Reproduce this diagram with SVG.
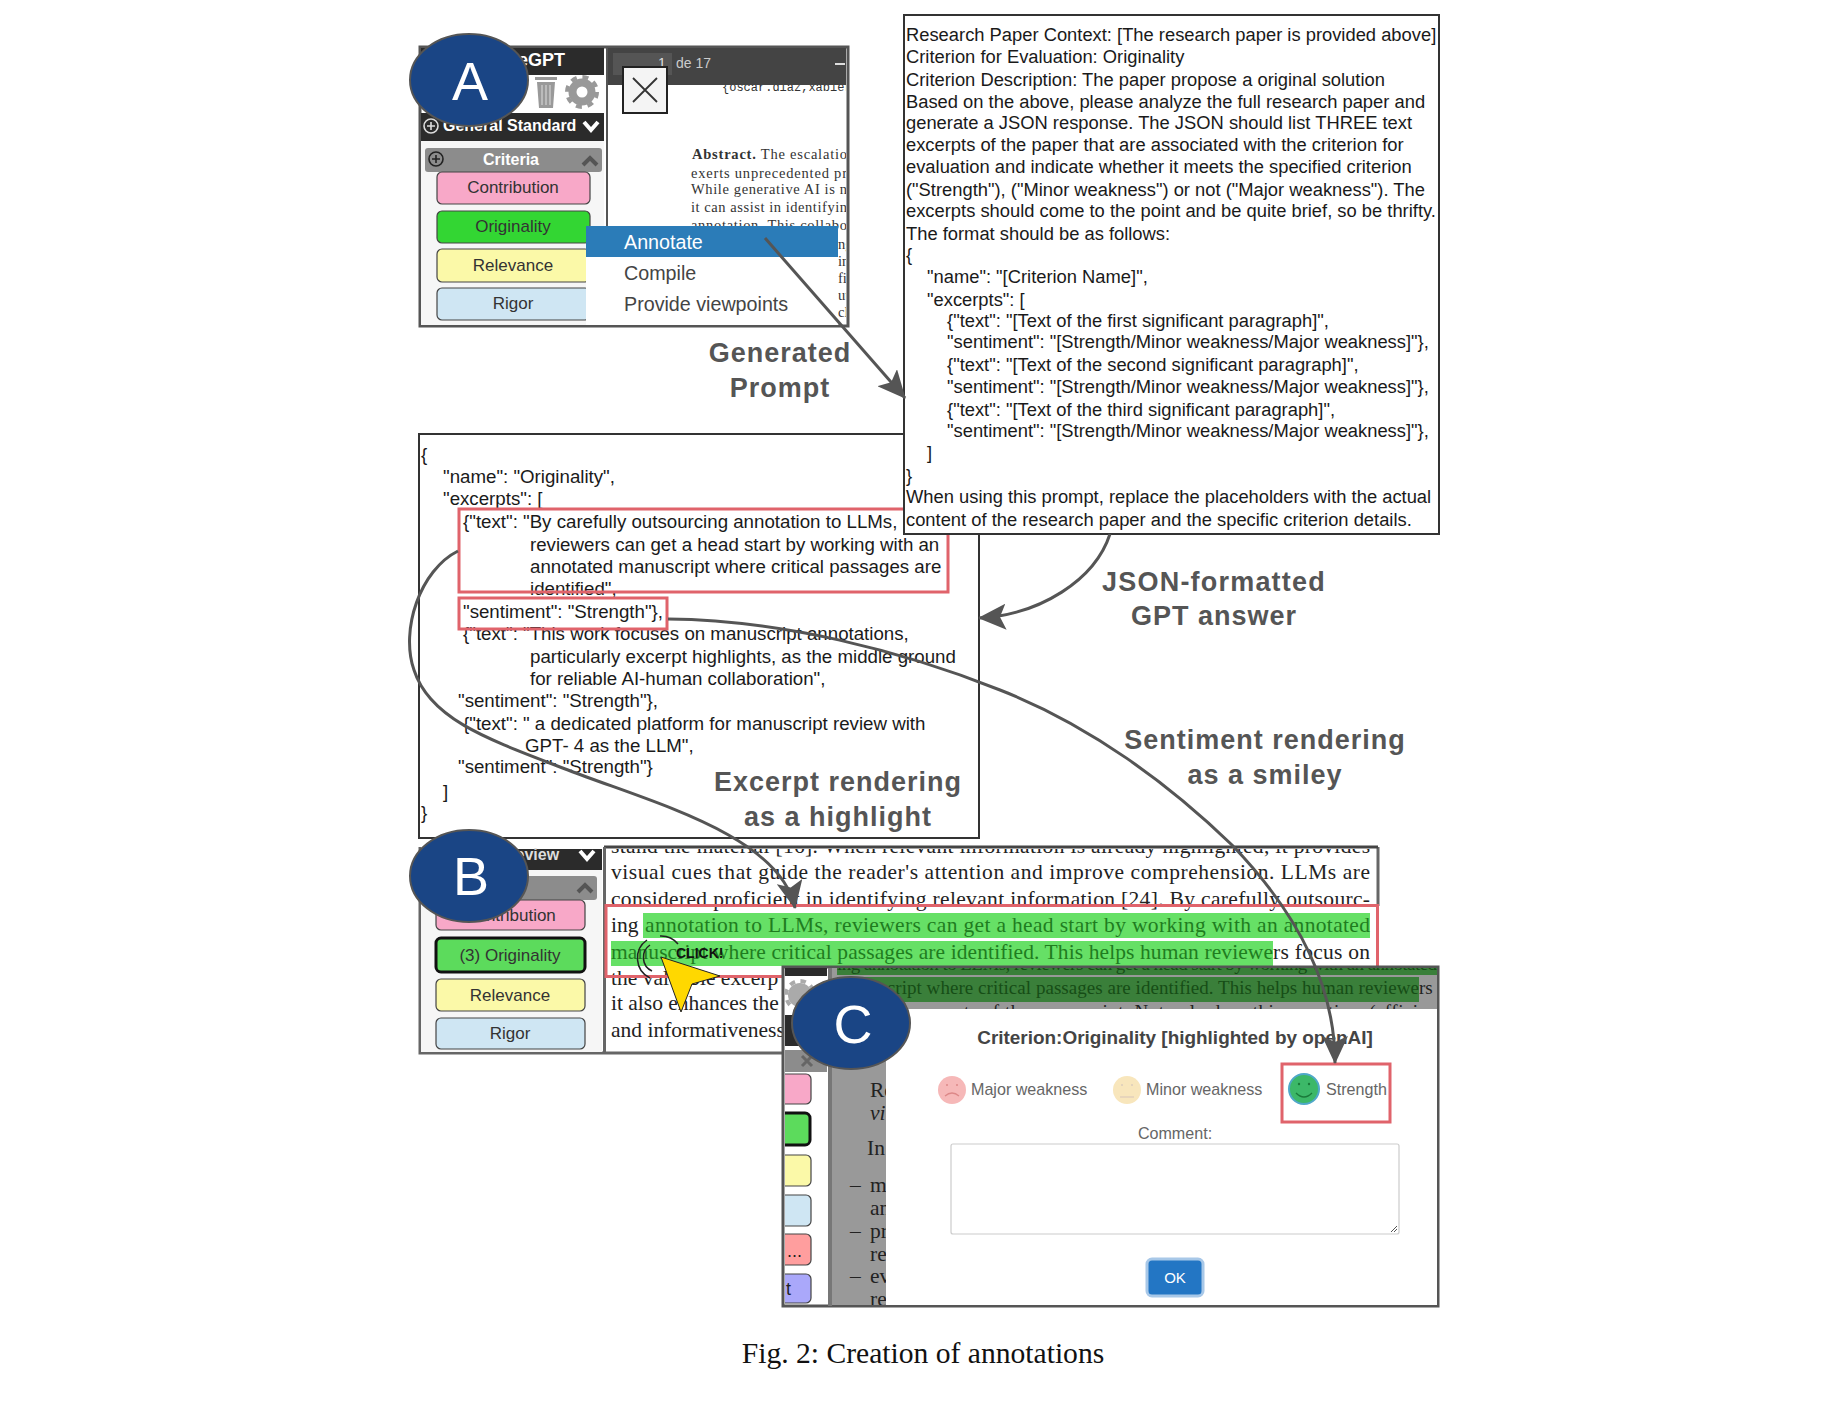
<svg xmlns="http://www.w3.org/2000/svg" width="1836" height="1416" viewBox="0 0 1836 1416">
<style>
text{font-family:"Liberation Sans",Arial,sans-serif;fill:#222}
.p{font-size:18.35px;fill:#1a1a1a}
.j{font-size:18.7px;fill:#1a1a1a}
.d{font-family:"Liberation Serif","Times New Roman",serif;font-size:21.5px;fill:#222}
.e{font-family:"Liberation Serif","Times New Roman",serif;font-size:19px}
.a{font-family:"Liberation Serif","Times New Roman",serif;font-size:14.5px;fill:#333}
.h{font-size:27px;font-weight:bold;fill:#555;text-anchor:middle;letter-spacing:1px}
.b{font-size:17px;text-anchor:middle;fill:#333}
.m{font-size:19.7px;fill:#444}
.box{fill:#fff;stroke:#333;stroke-width:2}
.red{fill:none;stroke:#e0636b;stroke-width:3}
.badge{fill:#1a4585;stroke:#555;stroke-width:2}
.lt{font-size:54px;fill:#fff;text-anchor:middle}
.conn{fill:none;stroke:#555;stroke-width:3}
.btn{stroke:#444;stroke-width:1.2}
.f{font-size:16.1px;fill:#666}
</style>
<defs>
<marker id="ah" markerUnits="userSpaceOnUse" markerWidth="30" markerHeight="26" refX="27" refY="13" orient="auto"><path d="M0 0L28 13L0 26L6 13Z" fill="#555"/></marker>
<clipPath id="ca"><rect x="608" y="85" width="238" height="240"/></clipPath>
<clipPath id="cb"><rect x="606" y="849" width="770" height="203"/></clipPath>
<clipPath id="cc"><rect x="832" y="968" width="605" height="41"/></clipPath>
<clipPath id="cd"><rect x="832" y="1009" width="54" height="296"/></clipPath>
<clipPath id="ce"><rect x="785" y="1060" width="30" height="245"/></clipPath>
</defs>

<g id="panel-a">
<rect x="420" y="47" width="428" height="279" fill="#fff" stroke="#555" stroke-width="3"/>
<rect x="421" y="48" width="183" height="27" fill="#2b2b2b"/>
<text x="518" y="66" font-size="18" font-weight="bold" style="fill:#fff">eGPT</text>
<g fill="#999"><path d="M537 82h18l-2 26h-14zM535 77h22v3h-22z"/><path d="M542 85v20M546 85v20M550 85v20" stroke="#ddd" stroke-width="1"/><circle cx="582" cy="92" r="13.5"/><circle cx="582" cy="92" r="15" fill="none" stroke="#999" stroke-width="4" stroke-dasharray="6 5.78"/><circle cx="582" cy="92" r="5.5" fill="#fff"/></g>
<rect x="421" y="113" width="183" height="28" fill="#2b2b2b"/>
<circle cx="431" cy="126" r="7" fill="none" stroke="#ddd" stroke-width="1.6"/><path d="M427 126h8M431 122v8" stroke="#ddd" stroke-width="1.6"/>
<text x="443" y="131" font-size="16" font-weight="bold" style="fill:#fff">General Standard</text>
<path d="M584 122l7 8 7-8" fill="none" stroke="#fff" stroke-width="4"/>
<rect x="421" y="141" width="183" height="184" fill="#f6f6f6"/>
<rect x="425" y="148" width="177" height="24" rx="3" fill="#8c8c8c"/>
<circle cx="436" cy="159" r="7" fill="none" stroke="#222" stroke-width="1.6"/><path d="M432 159h8M436 155v8" stroke="#222" stroke-width="1.6"/>
<text x="511" y="165" font-size="16" font-weight="bold" text-anchor="middle" style="fill:#fff">Criteria</text>
<path d="M583 165l7-7 7 7" fill="none" stroke="#555" stroke-width="4"/>
<rect class="btn" x="437" y="172" width="153" height="32" rx="5" fill="#f8a8c8"/><text class="b" x="513" y="193">Contribution</text>
<rect class="btn" x="437" y="211" width="153" height="32" rx="5" fill="#33d633"/><text class="b" x="513" y="232">Originality</text>
<rect class="btn" x="437" y="249" width="153" height="33" rx="5" fill="#fbf9a8"/><text class="b" x="513" y="271">Relevance</text>
<rect class="btn" x="437" y="288" width="153" height="32" rx="5" fill="#cfe6f3"/><text class="b" x="513" y="309">Rigor</text>
<rect x="606" y="47" width="2" height="279" fill="#555"/>
<rect x="608" y="48" width="238" height="37" fill="#444"/>
<rect x="613" y="53" width="59" height="22" fill="#555"/>
<text x="658" y="68" font-size="14" style="fill:#ddd">1</text><text x="676" y="68" font-size="14" style="fill:#ccc">de 17</text>
<rect x="835" y="63" width="10" height="2" fill="#ddd"/>
<g clip-path="url(#ca)">
<text class="a" x="722" y="91" style="font-family:'Liberation Mono',monospace;font-size:12px">{oscar.diaz,xabier</text>
<text class="a" x="692" y="159" textLength="155"><tspan font-weight="bold">Abstract.</tspan> The escalatio</text>
<text class="a" x="691" y="178" textLength="156">exerts unprecedented pr</text>
<text class="a" x="691" y="194" textLength="156">While generative AI is n</text>
<text class="a" x="691" y="212" textLength="156">it can assist in identifyin</text>
<text class="a" x="691" y="230" textLength="156">annotation. This collabo</text>
<text class="a" x="838" y="249">ng</text><text class="a" x="838" y="266">in</text><text class="a" x="838" y="283">fi</text><text class="a" x="838" y="300">ut</text><text class="a" x="838" y="317">cl</text>
</g>
<rect x="623" y="67" width="44" height="46" fill="#f4f4f4" stroke="#222" stroke-width="2"/>
<path d="M633 78l24 24M657 78l-24 24" stroke="#333" stroke-width="1.8"/>
<rect x="586" y="226" width="252" height="99" fill="#fff"/>
<rect x="586" y="226" width="252" height="31" fill="#2b7cb8"/>
<text class="m" x="624" y="249" style="fill:#fff">Annotate</text>
<text class="m" x="624" y="280">Compile</text>
<text class="m" x="624" y="311">Provide viewpoints</text>
</g>

<g id="json-answer">
<rect class="box" x="419" y="434" width="560" height="404"/>
<text class="j" x="421" y="461">{</text>
<text class="j" x="443" y="483">"name": "Originality",</text>
<text class="j" x="443" y="505">"excerpts": [</text>
<text class="j" x="463" y="528">{"text": "By carefully outsourcing annotation to LLMs,</text>
<text class="j" x="530" y="551">reviewers can get a head start by working with an</text>
<text class="j" x="530" y="573">annotated manuscript where critical passages are</text>
<text class="j" x="530" y="595">identified",</text>
<text class="j" x="463" y="618">"sentiment": "Strength"},</text>
<text class="j" x="463" y="640">{"text": "This work focuses on manuscript annotations,</text>
<text class="j" x="530" y="663">particularly excerpt highlights, as the middle ground</text>
<text class="j" x="530" y="685">for reliable AI-human collaboration",</text>
<text class="j" x="458" y="707">"sentiment": "Strength"},</text>
<text class="j" x="463" y="730">{"text": " a dedicated platform for manuscript review with</text>
<text class="j" x="525" y="752">GPT- 4 as the LLM",</text>
<text class="j" x="458" y="773">"sentiment": "Strength"}</text>
<text class="j" x="443" y="798">]</text>
<text class="j" x="421" y="819">}</text>
<rect class="red" x="459" y="509" width="489" height="83"/>
<rect class="red" x="459" y="598" width="208" height="31"/>
</g>

<g id="prompt">
<rect class="box" x="904" y="15" width="535" height="519"/>
<text class="p" x="906" y="41">Research Paper Context: [The research paper is provided above]</text>
<text class="p" x="906" y="63">Criterion for Evaluation: Originality</text>
<text class="p" x="906" y="86">Criterion Description: The paper propose a original solution</text>
<text class="p" x="906" y="108">Based on the above, please analyze the full research paper and</text>
<text class="p" x="906" y="129">generate a JSON response. The JSON should list THREE text</text>
<text class="p" x="906" y="151">excerpts of the paper that are associated with the criterion for</text>
<text class="p" x="906" y="173">evaluation and indicate whether it meets the specified criterion</text>
<text class="p" x="906" y="196">("Strength"), ("Minor weakness") or not ("Major weakness"). The</text>
<text class="p" x="906" y="217">excerpts should come to the point and be quite brief, so be thrifty.</text>
<text class="p" x="906" y="240">The format should be as follows:</text>
<text class="p" x="906" y="261">{</text>
<text class="p" x="927" y="283">"name": "[Criterion Name]",</text>
<text class="p" x="927" y="306">"excerpts": [</text>
<text class="p" x="947" y="327">{"text": "[Text of the first significant paragraph]",</text>
<text class="p" x="947" y="348">"sentiment": "[Strength/Minor weakness/Major weakness]"},</text>
<text class="p" x="947" y="371">{"text": "[Text of the second significant paragraph]",</text>
<text class="p" x="947" y="393">"sentiment": "[Strength/Minor weakness/Major weakness]"},</text>
<text class="p" x="947" y="416">{"text": "[Text of the third significant paragraph]",</text>
<text class="p" x="947" y="437">"sentiment": "[Strength/Minor weakness/Major weakness]"},</text>
<text class="p" x="927" y="459">]</text>
<text class="p" x="906" y="482">}</text>
<text class="p" x="906" y="503">When using this prompt, replace the placeholders with the actual</text>
<text class="p" x="906" y="526">content of the research paper and the specific criterion details.</text>
</g>

<g id="panel-b">
<rect x="420" y="847" width="958" height="206" fill="#fff"/>
<path d="M1378 847V906M420 847V1053H785" fill="none" stroke="#666" stroke-width="3"/>
<path d="M604 847H1378" fill="none" stroke="#444" stroke-width="3"/>
<rect x="421" y="849" width="181" height="21" fill="#2b2b2b"/>
<text x="504" y="860" font-size="16" font-weight="bold" style="fill:#ddd">Review</text>
<path d="M580 851l7 8 7-8" fill="none" stroke="#fff" stroke-width="4"/>
<rect x="421" y="870" width="181" height="182" fill="#f6f6f6"/>
<rect x="425" y="876" width="172" height="24" rx="3" fill="#8c8c8c"/>
<text x="497" y="892" font-size="16" font-weight="bold" style="fill:#ddd">a</text>
<path d="M578 892l7-7 7 7" fill="none" stroke="#555" stroke-width="4"/>
<rect class="btn" x="436" y="900" width="149" height="30" rx="5" fill="#f8a8c8"/><text class="b" x="510" y="921">Contribution</text>
<rect x="436" y="938" width="149" height="34" rx="5" fill="#5cdb5c" stroke="#111" stroke-width="3"/><text class="b" x="510" y="961">(3) Originality</text>
<rect class="btn" x="436" y="979" width="149" height="32" rx="5" fill="#fbf9a8"/><text class="b" x="510" y="1001">Relevance</text>
<rect class="btn" x="436" y="1018" width="149" height="31" rx="5" fill="#cfe6f3"/><text class="b" x="510" y="1039">Rigor</text>
<rect x="603" y="847" width="3" height="206" fill="#666"/>
<rect x="643" y="913" width="727" height="25" fill="#66e066"/>
<rect x="611" y="941" width="662" height="25" fill="#66e066"/>
<g clip-path="url(#cb)">
<text class="d" x="611" y="853" textLength="759">stand the material [16]. When relevant information is already highlighted, it provides</text>
<text class="d" x="611" y="879" textLength="759">visual cues that guide the reader's attention and improve comprehension. LLMs are</text>
<text class="d" x="611" y="906" textLength="759">considered proficient in identifying relevant information [24]. By carefully outsourc-</text>
<text class="d" x="611" y="932">ing</text>
<text class="d" x="645" y="932" textLength="725" style="fill:#1f7d1f">annotation to LLMs, reviewers can get a head start by working with an annotated</text>
<text class="d" x="611" y="959" textLength="662" style="fill:#1f7d1f">manuscript where critical passages are identified. This helps human reviewe</text>
<text class="d" x="1273" y="959" textLength="97">rs focus on</text>
<text class="d" x="611" y="985">the valuable excerp</text>
<text class="d" x="611" y="1010">it also enhances the</text>
<text class="d" x="611" y="1037">and informativeness</text>
</g>
<rect class="red" x="606" y="905.5" width="771.5" height="71" stroke-width="5"/>
<g fill="none" stroke="#222" stroke-width="1.5"><path d="M650 945a15 15 0 0 0 2 26"/><path d="M647 940a22 22 0 0 0 3 38"/><path d="M660 936a22 22 0 0 1 18 8"/></g>
<text x="676" y="958" font-size="14" font-weight="bold" style="fill:#111">CLICK!</text>
<path d="M661 957L720 976L692 984L681 1012Z" fill="#ffd800" stroke="#222" stroke-width="1"/>
</g>

<g id="panel-c">
<rect x="783" y="967" width="655" height="339" fill="#fff" stroke="#555" stroke-width="3"/>
<rect x="785" y="968" width="42" height="8" fill="#2b2b2b"/>
<circle cx="800" cy="995" r="12" fill="#aaa"/><circle cx="800" cy="995" r="14" fill="none" stroke="#aaa" stroke-width="4" stroke-dasharray="5.5 5.5"/>
<rect x="785" y="1015" width="42" height="31" fill="#2b2b2b"/>
<rect x="785" y="1050" width="42" height="22" fill="#8c8c8c"/>
<path d="M802 1066l10-10M802 1056l10 10" stroke="#666" stroke-width="3"/>
<rect x="828" y="968" width="4" height="338" fill="#777"/>
<rect x="832" y="968" width="605" height="337" fill="#999"/>
<rect x="837" y="968" width="600" height="7" fill="#3a7f3a"/>
<rect x="837" y="977" width="582" height="25" fill="#3a7f3a"/>
<g clip-path="url(#cc)">
<text class="e" x="837" y="970" textLength="600" style="fill:#164d16">ing annotation to LLMs, reviewers can get a head start by working with an annotated</text>
<text class="e" x="837" y="994" textLength="582" style="fill:#164d16">manuscript where critical passages are identified. This helps human reviewe</text>
<text class="e" x="1419" y="994" style="fill:#222">rs</text>
<text class="e" x="837" y="1018" textLength="600" style="fill:#222">valuable excerpts of the manuscript. Not only does this save time (efficien</text>
</g>
<g clip-path="url(#cd)">
<text class="d" x="870" y="1097">Re</text><text class="d" x="870" y="1120" font-style="italic">vi</text><text class="d" x="867" y="1155">In</text>
<text class="d" x="850" y="1192">–</text><text class="d" x="870" y="1192">m</text><text class="d" x="870" y="1215">an</text>
<text class="d" x="850" y="1238">–</text><text class="d" x="870" y="1238">pr</text><text class="d" x="870" y="1261">re</text>
<text class="d" x="850" y="1283">–</text><text class="d" x="870" y="1283">ev</text><text class="d" x="870" y="1306">re</text>
</g>
<g clip-path="url(#ce)">
<rect class="btn" x="770" y="1074" width="41" height="30" rx="5" fill="#f8a8c8"/>
<rect x="770" y="1113" width="40" height="32" rx="5" fill="#5cdb5c" stroke="#111" stroke-width="3"/>
<rect class="btn" x="770" y="1155" width="41" height="31" rx="5" fill="#fbf9a8"/>
<rect class="btn" x="770" y="1195" width="41" height="31" rx="5" fill="#cfe6f3"/>
<rect class="btn" x="770" y="1234" width="41" height="31" rx="5" fill="#ff9e9e"/>
<rect class="btn" x="770" y="1274" width="41" height="29" rx="5" fill="#aaa8fa"/>
<text x="787" y="1257" font-size="18">...</text>
<text x="786" y="1295" font-size="18">t</text>
</g>
<rect x="886" y="1009" width="551" height="296" fill="#fff"/>
<text x="1175" y="1044" font-size="18.95" font-weight="bold" text-anchor="middle" style="fill:#444">Criterion:Originality [highlighted by openAI]</text>
<circle cx="952" cy="1090" r="14" fill="#f6b8b8"/><path d="M945 1096q7-6 14 0" fill="none" stroke="#d88" stroke-width="1.3"/><circle cx="947" cy="1085" r="1" fill="#d88"/><circle cx="957" cy="1085" r="1" fill="#d88"/>
<text class="f" x="971" y="1095">Major weakness</text>
<circle cx="1127" cy="1090" r="14" fill="#f8e6bc"/><path d="M1120 1097h14" stroke="#dcb" stroke-width="1.3"/><circle cx="1122" cy="1085" r="1" fill="#dcb"/><circle cx="1132" cy="1085" r="1" fill="#dcb"/>
<text class="f" x="1146" y="1095">Minor weakness</text>
<circle cx="1304" cy="1089" r="15" fill="#3cb868" stroke="#4fa8c8" stroke-width="2"/><path d="M1296 1093q8 8 16 0" fill="none" stroke="#1a7a3a" stroke-width="1.4"/><circle cx="1299" cy="1084" r="1.2" fill="#1a7a3a"/><circle cx="1309" cy="1084" r="1.2" fill="#1a7a3a"/>
<text class="f" x="1326" y="1095">Strength</text>
<rect class="red" x="1282" y="1064" width="108" height="58"/>
<text class="f" x="1175" y="1139" text-anchor="middle">Comment:</text>
<rect x="951" y="1144" width="448" height="90" rx="2" fill="#fff" stroke="#ccc" stroke-width="1.2"/>
<path d="M1391 1232l6-6M1394 1232l3-3" stroke="#555" stroke-width="1"/>
<rect x="1147" y="1259" width="56" height="37" rx="5" fill="#2376c4" stroke="#a8c8e8" stroke-width="3"/>
<text x="1175" y="1283" font-size="15" text-anchor="middle" style="fill:#fff">OK</text>
</g>

<g id="badges">
<g id="badge-a"><ellipse class="badge" cx="469" cy="80" rx="59" ry="46"/><text class="lt" x="470" y="100">A</text></g>
<g id="badge-b"><ellipse class="badge" cx="469" cy="876" rx="59" ry="46"/><text class="lt" x="471" y="895">B</text></g>
<g id="badge-c"><ellipse class="badge" cx="851" cy="1023" rx="59" ry="46"/><text class="lt" x="853" y="1043">C</text></g>
</g>

<g id="connectors">
<path class="conn" marker-end="url(#ah)" d="M765 238L905 398"/>
<path class="conn" marker-end="url(#ah)" d="M1110 534C1095 580 1040 615 979 618"/>
<path class="conn" marker-end="url(#ah)" d="M458 551C420 570 400 630 414 670C430 720 490 740 568 770C650 802 780 835 795 908"/>
<path class="conn" marker-end="url(#ah)" d="M668 619C780 620 900 650 1000 690C1090 725 1170 785 1232 845C1285 900 1335 975 1335 1063"/>
</g>

<g id="labels">
<text class="h" x="780" y="362">Generated</text><text class="h" x="780" y="397">Prompt</text>
<text class="h" x="1214" y="591" style="letter-spacing:1.2px">JSON-formatted</text><text class="h" x="1214" y="625">GPT answer</text>
<text class="h" x="1265" y="749">Sentiment rendering</text><text class="h" x="1265" y="784">as a smiley</text>
<text class="h" x="838" y="791">Excerpt rendering</text><text class="h" x="838" y="826">as a highlight</text>
<text x="923" y="1363" font-size="29.6" text-anchor="middle" style="font-family:'Liberation Serif','Times New Roman',serif;fill:#111">Fig. 2: Creation of annotations</text>
</g>
</svg>
